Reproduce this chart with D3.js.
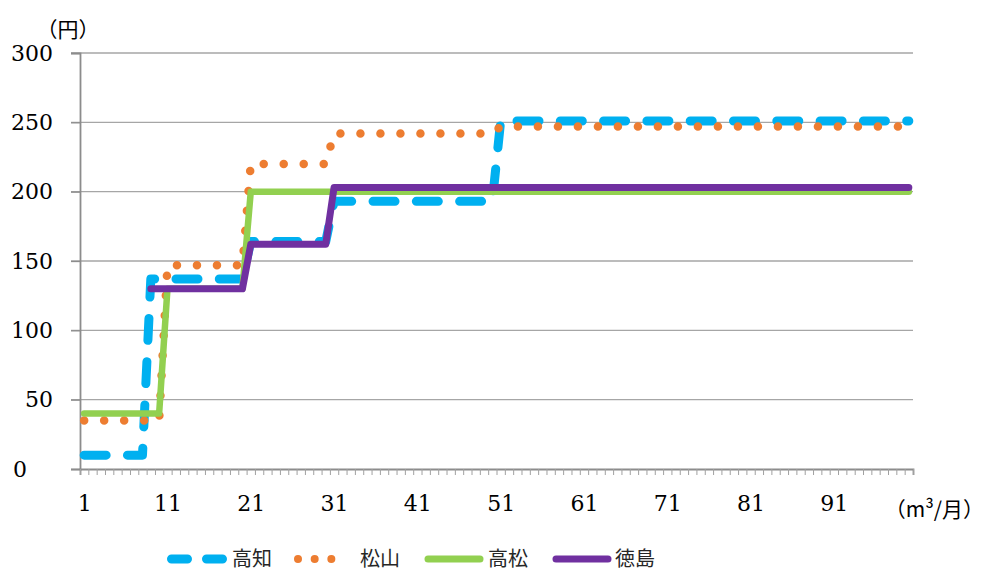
<!DOCTYPE html>
<html>
<head>
<meta charset="utf-8">
<script src="https://cdn.jsdelivr.net/npm/d3@7"></script>
<style>
  html, body { margin: 0; padding: 0; background: #fff; }
  svg { display: block; }
</style>
</head>
<body>
<svg id="chart" width="985" height="572"></svg>
<script>
// ---- data ----
const categories = [
  1,2,3,4,5,6,7,8,9,10, 11,12,13,14,15,16,17,18,19,20,
  21,22,23,24,25,26,27,28,29,30, 31,32,33,34,35,36,37,38,39,40,
  41,42,43,44,45,46,47,48,49,50, 51,52,53,54,55,56,57,58,59,60,
  61,62,63,64,65,66,67,68,69,70, 71,72,73,74,75,76,77,78,79,80,
  81,82,83,84,85,86,87,88,89,90, 91,92,93,94,95,96,97,98,99,100
];
const seriesNames = ["高知", "松山", "高松", "徳島"];
const kochi = [
  10,10,10,10,10,10,10,10,137,137,
  137,137,137,137,137,137,137,137,137,137,
  164,164,164,164,164,164,164,164,164,164,
  193,193,193,193,193,193,193,193,193,193,
  193,193,193,193,193,193,193,193,193,193,
  251,251,251,251,251,251,251,251,251,251,
  251,251,251,251,251,251,251,251,251,251,
  251,251,251,251,251,251,251,251,251,251,
  251,251,251,251,251,251,251,251,251,251,
  251,251,251,251,251,251,251,251,251,251
];
const matsuyama = [
  35,35,35,35,35,35,35,35,35,35,
  147,147,147,147,147,147,147,147,147,147,
  220,220,220,220,220,220,220,220,220,220,
  242,242,242,242,242,242,242,242,242,242,
  242,242,242,242,242,242,242,242,242,242,
  247,247,247,247,247,247,247,247,247,247,
  247,247,247,247,247,247,247,247,247,247,
  247,247,247,247,247,247,247,247,247,247,
  247,247,247,247,247,247,247,247,247,247,
  247,247,247,247,247,247,247,247,247,247
];
const takamatsu = [
  40,40,40,40,40,40,40,40,40,40,
  130,130,130,130,130,130,130,130,130,130,
  200,200,200,200,200,200,200,200,200,200,
  200,200,200,200,200,200,200,200,200,200,
  200,200,200,200,200,200,200,200,200,200,
  200,200,200,200,200,200,200,200,200,200,
  200,200,200,200,200,200,200,200,200,200,
  200,200,200,200,200,200,200,200,200,200,
  200,200,200,200,200,200,200,200,200,200,
  200,200,200,200,200,200,200,200,200,200
];
const tokushima = [
  null,null,null,null,null,null,null,null,130,130,
  130,130,130,130,130,130,130,130,130,130,
  162,162,162,162,162,162,162,162,162,162,
  203,203,203,203,203,203,203,203,203,203,
  203,203,203,203,203,203,203,203,203,203,
  203,203,203,203,203,203,203,203,203,203,
  203,203,203,203,203,203,203,203,203,203,
  203,203,203,203,203,203,203,203,203,203,
  203,203,203,203,203,203,203,203,203,203,
  203,203,203,203,203,203,203,203,203,203
];
const yTicks = [0, 50, 100, 150, 200, 250, 300];
const xLabelCats = [1, 11, 21, 31, 41, 51, 61, 71, 81, 91];
const yUnit = "（円）";
const xUnit = "（m³/月）";

// ---- layout / styles ----
const mLeft = 80, mRight = 913, mTop = 53, mBottom = 469;
const styles = [
  { color: "#00B0F0", width: 9,   dash: "22 21.3", legendDash: "16 19" },
  { color: "#ED7D31", width: 8.5, dash: "0 20",    legendDash: "0 16.67" },
  { color: "#92D050", width: 6.5, dash: null,      legendDash: null },
  { color: "#7030A0", width: 7,   dash: null,      legendDash: null }
];
const seriesData = [kochi, matsuyama, takamatsu, tokushima];

const svg = d3.select("#chart");
const x = d3.scalePoint().domain(categories).range([mLeft, mRight]).padding(0.5);
const xEdge = d3.scaleLinear().domain([0.5, 100.5]).range([mLeft, mRight]);
const y = d3.scaleLinear().domain([0, 300]).range([mBottom, mTop]);

const numFont = "'DejaVu Serif', 'Liberation Serif', serif";
const cjkFont = "'Noto Sans CJK JP', 'Noto Sans', sans-serif";

// gridlines
svg.append("g")
  .selectAll("line").data(yTicks.filter(d => d > 0)).join("line")
  .attr("x1", mLeft - 9).attr("x2", mRight)
  .attr("y1", d => y(d)).attr("y2", d => y(d))
  .attr("stroke", "#A6A6A6").attr("stroke-width", 1.3);

// y axis
const yAxis = svg.append("g").attr("transform", `translate(${mLeft},0)`)
  .call(d3.axisLeft(y).tickValues(yTicks).tickSize(9).tickPadding(18).tickFormat(d3.format("d")));
yAxis.select(".domain").attr("stroke", "#8C8C8C").attr("stroke-width", 1.8);
yAxis.selectAll(".tick line").attr("stroke", "#8C8C8C").attr("stroke-width", 1.3);
yAxis.selectAll(".tick text").attr("font-family", numFont).attr("font-size", 22).attr("fill", "#000");
// "0" label sits further left in the reference
yAxis.selectAll(".tick text").filter(d => d === 0).attr("text-anchor", "start").attr("x", -67);

// x axis tick marks at category boundaries
const xTickVals = d3.range(0, 101).map(i => i + 0.5);
const xAxisTicks = svg.append("g").attr("transform", `translate(0,${mBottom})`)
  .call(d3.axisBottom(xEdge).tickValues(xTickVals).tickSize(6).tickFormat(""));
xAxisTicks.select(".domain").attr("stroke", "#8C8C8C").attr("stroke-width", 1.8);
xAxisTicks.selectAll(".tick line").attr("stroke", "#A0A0A0").attr("stroke-width", 1);

// x axis labels
const xAxisLabels = svg.append("g").attr("transform", `translate(0,${mBottom})`)
  .call(d3.axisBottom(x).tickValues(xLabelCats).tickSize(0).tickPadding(26));
xAxisLabels.select(".domain").remove();
xAxisLabels.selectAll(".tick text").attr("font-family", numFont).attr("font-size", 22).attr("fill", "#000");

// units
svg.append("text").attr("x", 68).attr("y", 29).attr("dy", "0.36em").attr("text-anchor", "middle")
  .attr("font-family", cjkFont).attr("font-size", 21).attr("fill", "#000")
  .text(yUnit);
svg.append("text").attr("x", 984).attr("y", 509).attr("dy", "0.36em").attr("text-anchor", "end")
  .attr("font-family", cjkFont).attr("font-size", 21).attr("fill", "#000")
  .text(xUnit);

// lines
const line = d3.line()
  .defined(d => d.v !== null)
  .x(d => x(d.c)).y(d => y(d.v));

seriesData.forEach((arr, i) => {
  const pts = categories.map((c, j) => ({ c: c, v: arr[j] }));
  const st = styles[i];
  const p = svg.append("path").datum(pts)
    .attr("d", line)
    .attr("fill", "none")
    .attr("stroke", st.color)
    .attr("stroke-width", st.width)
    .attr("stroke-linecap", "round")
    .attr("stroke-linejoin", "round");
  if (st.dash) p.attr("stroke-dasharray", st.dash);
});

// legend
const legendItems = [
  { x0: 171.5, x1: 222.5, tx: 232 },
  { x0: 298,   x1: 348,   tx: 360 },
  { x0: 428,   x1: 480,   tx: 488 },
  { x0: 556,   x1: 608,   tx: 615 }
];
const ly = 559;
legendItems.forEach((it, i) => {
  const st = styles[i];
  const l = svg.append("line")
    .attr("x1", it.x0).attr("x2", it.x1).attr("y1", ly).attr("y2", ly)
    .attr("stroke", st.color)
    .attr("stroke-width", i === 1 ? 8 : (i === 0 ? 9 : 7))
    .attr("stroke-linecap", "round");
  if (st.legendDash) l.attr("stroke-dasharray", st.legendDash);
  svg.append("text").attr("x", it.tx).attr("y", ly).attr("dy", "0.36em")
    .attr("font-family", cjkFont).attr("font-size", 20).attr("fill", "#262626")
    .text(seriesNames[i]);
});
</script>
</body>
</html>
